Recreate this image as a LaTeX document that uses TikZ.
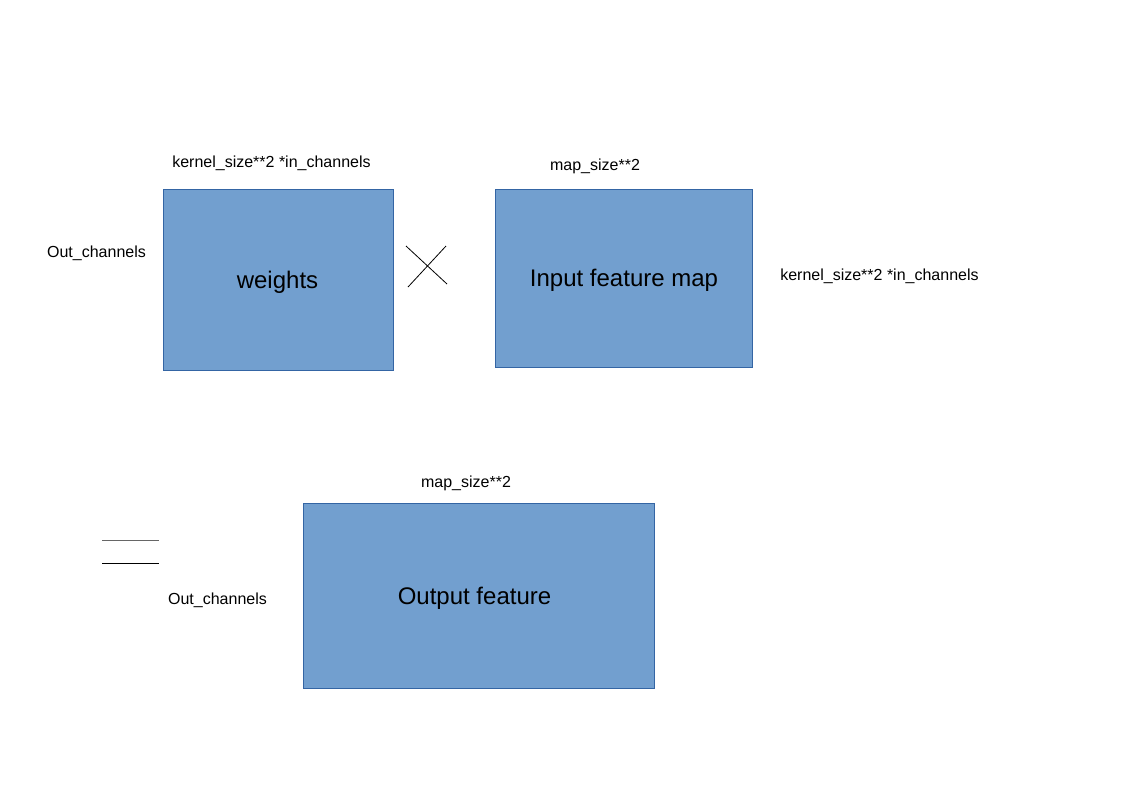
\documentclass[tikz,border=0pt]{standalone}
\usepackage{fontspec}
\setmainfont{Liberation Sans}
\definecolor{azul}{HTML}{729FCF}
\definecolor{borde}{HTML}{3465A4}
\tikzset{
  caja/.style={draw=borde, fill=azul, line width=0.6pt, inner sep=0pt},
  titulo/.style={inner sep=0pt, font=\fontsize{18}{21}\selectfont},
  etiqueta/.style={inner sep=0pt, font=\fontsize{12}{14}\selectfont}
}
\begin{document}
\begin{tikzpicture}[x=0.75pt, y=-0.75pt]
        \useasboundingbox (0,0) rectangle (1123,794);

        % Matriz de pesos
        \node[caja, minimum width=172.5pt, minimum height=135.75pt] (weights) at (278,279.5) {};
        \node[titulo] (wname) at (277.5,282.5) {weights};
        \node[etiqueta] (wtop) at (271.5,163) {kernel\_size**2 *in\_channels};
        \node[etiqueta] (wleft) at (96.5,253) {Out\_channels};

        % Signo de producto
        \coordinate (xa) at (406,246);
        \coordinate (xb) at (447,284);
        \coordinate (xc) at (408,287);
        \coordinate (xd) at (446,246);
        \draw[line width=0.6pt] (xa) -- (xb);
        \draw[line width=0.6pt] (xc) -- (xd);

        % Mapa de entrada
        \node[caja, minimum width=192.75pt, minimum height=133.5pt] (input) at (623.5,278) {};
        \node[titulo] (iname) at (624,280) {Input feature map};
        \node[etiqueta] (itop) at (595,166) {map\_size**2};
        \node[etiqueta] (iright) at (879.5,276) {kernel\_size**2 *in\_channels};

        % Signo igual
        \coordinate (ea) at (102,540);
        \coordinate (eb) at (159,540);
        \coordinate (ec) at (102,563);
        \coordinate (ed) at (159,563);
        \draw[line width=0.6pt, gray!80!black] (ea) -- (eb);
        \draw[line width=0.6pt] (ec) -- (ed);

        % Mapa de salida
        \node[caja, minimum width=263.25pt, minimum height=138.75pt] (output) at (478.5,595.5) {};
        \node[titulo] (oname) at (474.5,598) {Output feature};
        \node[etiqueta] (otop) at (466,483) {map\_size**2};
        \node[etiqueta] (oleft) at (217.5,600) {Out\_channels};

    \end{tikzpicture}
\end{document}
